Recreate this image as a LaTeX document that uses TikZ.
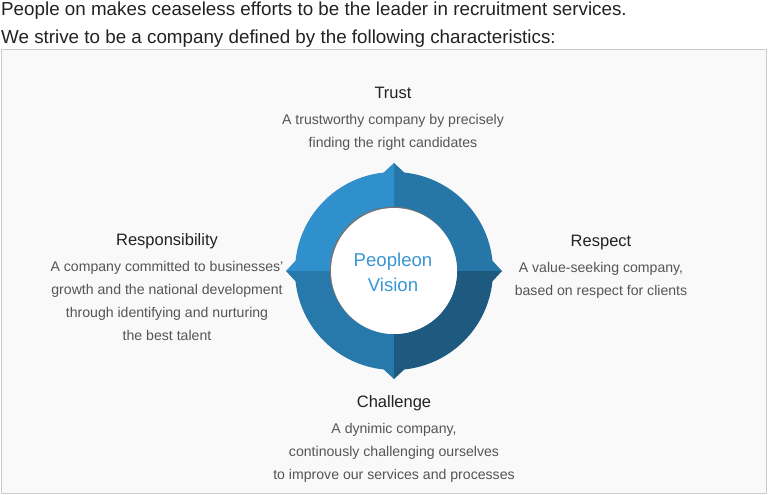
\documentclass[tikz,border=0pt]{standalone}
\usepackage{fontspec}
\setmainfont{Liberation Sans}
\definecolor{qTL}{HTML}{3090CC}
\definecolor{qTR}{HTML}{2677A8}
\definecolor{qBL}{HTML}{2879AB}
\definecolor{qBR}{HTML}{1E5A7F}
\definecolor{vis}{HTML}{3A96D2}
\definecolor{headc}{HTML}{222222}
\definecolor{descc}{HTML}{555555}
\definecolor{panel}{HTML}{F9F9F9}
\definecolor{panelline}{HTML}{CCCCCC}
\tikzset{
  titletxt/.style={anchor=base west, inner sep=0pt, text=headc, font=\fontsize{18.8}{20}\selectfont},
  headtxt/.style={anchor=base, inner sep=0pt, text=headc, font=\fontsize{16.5}{18}\selectfont},
  desctxt/.style={anchor=base, inner sep=0pt, text=descc, font=\fontsize{14.1}{16}\selectfont},
}
\begin{document}
\begin{tikzpicture}[x=1pt,y=-1pt]
\useasboundingbox (0,0) rectangle (768,495);
\fill[white] (0,0) rectangle (768,495);
\draw[panelline, fill=panel] (1.5,49.5) rectangle (766.5,493.5);

\node[titletxt] (t1) at (1,16) {People on makes ceaseless efforts to be the leader in recruitment services.};
\node[titletxt] (t2) at (1,44) {We strive to be a company defined by the following characteristics:};

% ring
\begin{scope}[shift={(394,271)}, yscale=-1]
  \def\ro{99}\def\ri{63}\def\rt{108}\def\dd{6}
  \fill[qTR] (90:\rt) -- (90-\dd:\ro) arc[start angle=90-\dd, end angle=\dd, radius=\ro] -- (0:\rt) -- (0:\ri) arc[start angle=0, end angle=90, radius=\ri] -- cycle;
  \fill[qTL] (90:\rt) -- (90+\dd:\ro) arc[start angle=90+\dd, end angle=180-\dd, radius=\ro] -- (180:\rt) -- (180:\ri) arc[start angle=180, end angle=90, radius=\ri] -- cycle;
  \fill[qBL] (180:\rt) -- (180+\dd:\ro) arc[start angle=180+\dd, end angle=270-\dd, radius=\ro] -- (270:\rt) -- (270:\ri) arc[start angle=270, end angle=180, radius=\ri] -- cycle;
  \fill[qBR] (270:\rt) -- (270+\dd:\ro) arc[start angle=270+\dd, end angle=360-\dd, radius=\ro] -- (360:\rt) -- (0:\ri) arc[start angle=360, end angle=270, radius=\ri] -- cycle;
  \fill[black!55] (-0.8,0.8) circle[radius=63.5];
  \fill[white] (0,0) circle[radius=63];
\end{scope}
\node[anchor=base, inner sep=0pt, text=vis, font=\fontsize{18.6}{20}\selectfont] (v1) at (393,266) {Peopleon};
\node[anchor=base, inner sep=0pt, text=vis, font=\fontsize{18.6}{20}\selectfont] (v2) at (393,291) {Vision};

% Trust
\node[headtxt] (trh) at (393,99) {Trust};
\node[desctxt] (tr1) at (393,124) {A trustworthy company by precisely};
\node[desctxt] (tr2) at (393,147) {finding the right candidates};

% Responsibility
\node[headtxt] (rsh) at (167,245) {Responsibility};
\node[desctxt] (rs1) at (167,271) {A company committed to businesses’};
\node[desctxt] (rs2) at (167,294) {growth and the national development};
\node[desctxt] (rs3) at (167,317) {through identifying and nurturing};
\node[desctxt] (rs4) at (167,340) {the best talent};

% Respect
\node[headtxt] (rph) at (601,246) {Respect};
\node[desctxt] (rp1) at (601,272) {A value-seeking company,};
\node[desctxt] (rp2) at (601,295) {based on respect for clients};

% Challenge
\node[headtxt] (chh) at (394,407) {Challenge};
\node[desctxt] (ch1) at (394,433) {A dynimic company,};
\node[desctxt] (ch2) at (394,456) {continously challenging ourselves};
\node[desctxt] (ch3) at (394,479) {to improve our services and processes};
\end{tikzpicture}
\end{document}
